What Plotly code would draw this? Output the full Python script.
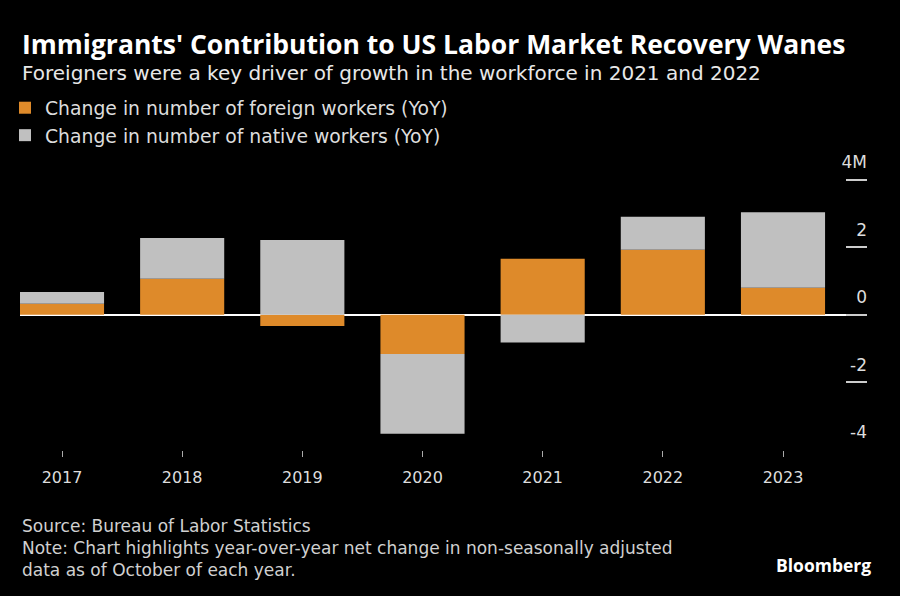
import plotly.graph_objects as go

years = ["2017", "2018", "2019", "2020", "2021", "2022", "2023"]
foreign = [0.33, 1.07, -0.33, -1.16, 1.66, 1.93, 0.80]
native = [0.35, 1.21, 2.22, -2.37, -0.82, 0.98, 2.24]
ytick_vals = [4, 2, 0, -2, -4]
ytick_text = ["4M", "2", "0", "-2", "-4"]

ORANGE = "#DE8A2A"
GRAY = "#C0C0C0"
TFONT = "Open Sans"
FONT = "DejaVu Sans"

W, H = 900, 596
L, R, T, B = 20, 33, 150, 146


def px(x):
    return (x - L) / (W - L - R)


def py(y):
    return (H - B - y) / (H - T - B)


fig = go.Figure()
fig.add_trace(go.Bar(x=years, y=foreign, name="Change in number of foreign workers (YoY)",
                     marker=dict(color=ORANGE, line=dict(width=0))))
fig.add_trace(go.Bar(x=years, y=native, name="Change in number of native workers (YoY)",
                     marker=dict(color=GRAY, line=dict(width=0))))

annotations = [
    dict(text="<b>Immigrants' Contribution to US Labor Market Recovery Wanes</b>",
         x=px(20), y=py(44), font=dict(size=26.5, color="#ffffff", family=TFONT)),
    dict(text="Foreigners were a key driver of growth in the workforce in 2021 and 2022",
         x=px(20), y=py(73), font=dict(size=20, color="#e8e8e8", family=FONT)),
    dict(text="Source: Bureau of Labor Statistics",
         x=px(20), y=py(526), font=dict(size=17, color="#d0d0d0", family=FONT)),
    dict(text="Note: Chart highlights year-over-year net change in non-seasonally adjusted",
         x=px(20), y=py(548), font=dict(size=17, color="#d0d0d0", family=FONT)),
    dict(text="data as of October of each year.",
         x=px(20), y=py(570), font=dict(size=17, color="#d0d0d0", family=FONT)),
    dict(text="<b>Bloomberg</b>",
         x=px(774), y=py(565), font=dict(size=17.5, color="#ffffff", family=TFONT)),
]
for a in annotations:
    a.update(xref="paper", yref="paper", xanchor="left", yanchor="middle",
             showarrow=False)

fig.update_layout(
    width=W, height=H,
    margin=dict(l=L, r=R, t=T, b=B, pad=0, autoexpand=False),
    paper_bgcolor="#000000", plot_bgcolor="#000000",
    barmode="relative", bargap=0.3,
    showlegend=True,
    legend=dict(x=px(5), y=py(89), xanchor="left", yanchor="top",
                orientation="v", traceorder="normal",
                font=dict(size=18.8, color="#dddddd", family=FONT),
                bgcolor="rgba(0,0,0,0)", itemclick=False, tracegroupgap=0),
    annotations=annotations,
    xaxis=dict(type="category", range=[-0.3495, 6.699], showgrid=False,
               showline=False, zeroline=False,
               ticks="outside", ticklen=6, tickwidth=1, tickcolor="#aaaaaa",
               tickfont=dict(size=16, color="#dddddd", family=FONT),
               ticklabelstandoff=7, fixedrange=True),
    yaxis=dict(range=[-4.01, 4.889], side="right", showgrid=False,
               showline=False, zeroline=True, zerolinecolor="#ffffff",
               zerolinewidth=1.5,
               tickmode="array", tickvals=ytick_vals, ticktext=ytick_text,
               ticks="inside", ticklen=21, tickwidth=1.5, tickcolor="#cccccc",
               ticklabelposition="inside top", ticklabelshift=-5,
               ticklabelstandoff=-3,
               tickfont=dict(size=17, color="#dddddd", family=FONT),
               fixedrange=True),
)

fig.write_html("out.html")
